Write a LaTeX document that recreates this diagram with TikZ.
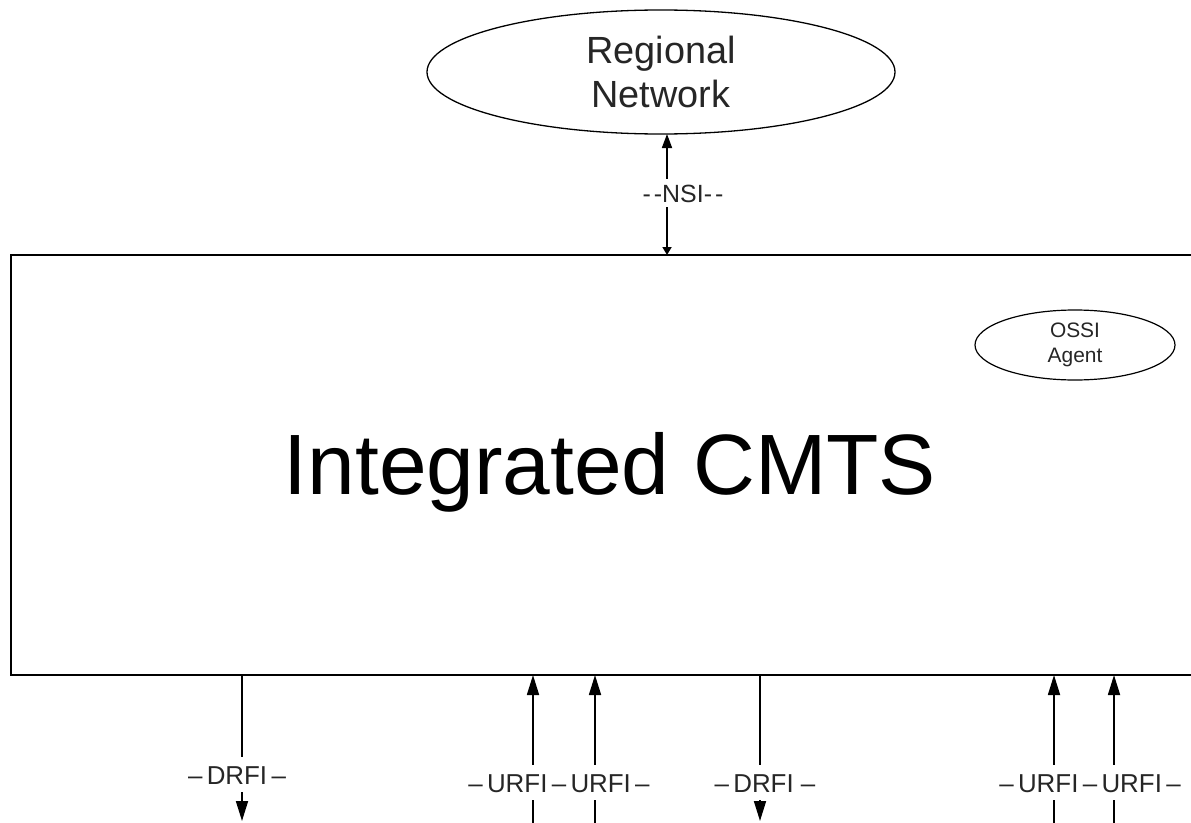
\documentclass[tikz,border=0pt]{standalone}
\usepackage{fontspec}
\setmainfont{Liberation Sans}
\usetikzlibrary{shapes.geometric,arrows.meta}
\begin{document}
\begin{tikzpicture}[x=1bp,y=-1bp,
  conn/.style={line width=1.7bp, draw=black},
  lbl/.style={font=\fontsize{26}{30}\selectfont, text=black!85, inner xsep=0pt, inner ysep=8bp, text height=19bp, text depth=0pt, anchor=base},
  tip/.style={-{Triangle[length=20bp,width=12bp]}},
  oval/.style={draw, ellipse, outer sep=0pt, inner sep=0pt, align=center, text=black!85}
]
\useasboundingbox (0,0) rectangle (1191,823);
\clip (0,0) rectangle (1191,823);

% main box
\node[draw, line width=1.7bp, outer sep=0pt, inner sep=0pt, minimum width=1209bp, minimum height=420bp, anchor=north west] (cmts) at (11,255) {};
\node[font=\fontsize{86}{100}\selectfont, anchor=base] (title) at (610,494) {Integrated CMTS};

% ellipses
\node[oval, line width=1.3bp, minimum width=468bp, minimum height=124bp, font=\fontsize{38}{44}\selectfont] (rn) at (661,72) {Regional\\Network};
\node[oval, line width=1.2bp, minimum width=200bp, minimum height=70bp, font=\fontsize{21}{25}\selectfont] (ossi) at (1075,345) {OSSI\\Agent};

% NSI
\coordinate (nsix) at (667,0);
\node[lbl, font=\fontsize{25}{30}\selectfont, inner ysep=5bp, text height=18bp] (nsi) at (683,202) {-\kern3bp-NSI-\kern3bp-};
\draw[conn, -{Triangle[length=14bp,width=10bp]}] (nsix |- nsi.north) -- (nsix |- rn.south);
\draw[conn, -{Triangle[length=8bp,width=9bp]}] (nsix |- nsi.south) -- (nsix |- cmts.north);

% DRFI 1
\coordinate (d1end) at (242,821);
\node[lbl] (drfi1) at (237,784) {–\,DRFI\,–};
\draw[conn] (cmts.south -| d1end) -- (drfi1.north -| d1end);
\draw[conn, tip] (drfi1.south -| d1end) -- (d1end);

% DRFI 2
\coordinate (d2end) at (760,821);
\node[lbl] (drfi2) at (765,792) {–\,DRFI –};
\draw[conn] (cmts.south -| d2end) -- (drfi2.north -| d2end);
\draw[conn, tip] (drfi2.south -| d2end) -- (d2end);

% URFI left pair
\coordinate (u1end) at (533,823);
\coordinate (u2end) at (595,823);
\node[lbl] (urfiA) at (559,792) {–\,URFI\,–\,URFI\,–};
\draw[conn, tip] (urfiA.north -| u1end) -- (cmts.south -| u1end);
\draw[conn] (urfiA.south -| u1end) -- (u1end);
\draw[conn, tip] (urfiA.north -| u2end) -- (cmts.south -| u2end);
\draw[conn] (urfiA.south -| u2end) -- (u2end);

% URFI right pair
\coordinate (u3end) at (1054,823);
\coordinate (u4end) at (1114,823);
\node[lbl] (urfiB) at (1090,792) {–\,URFI\,–\,URFI\,–};
\draw[conn, tip] (urfiB.north -| u3end) -- (cmts.south -| u3end);
\draw[conn] (urfiB.south -| u3end) -- (u3end);
\draw[conn, tip] (urfiB.north -| u4end) -- (cmts.south -| u4end);
\draw[conn] (urfiB.south -| u4end) -- (u4end);
\end{tikzpicture}
\end{document}
